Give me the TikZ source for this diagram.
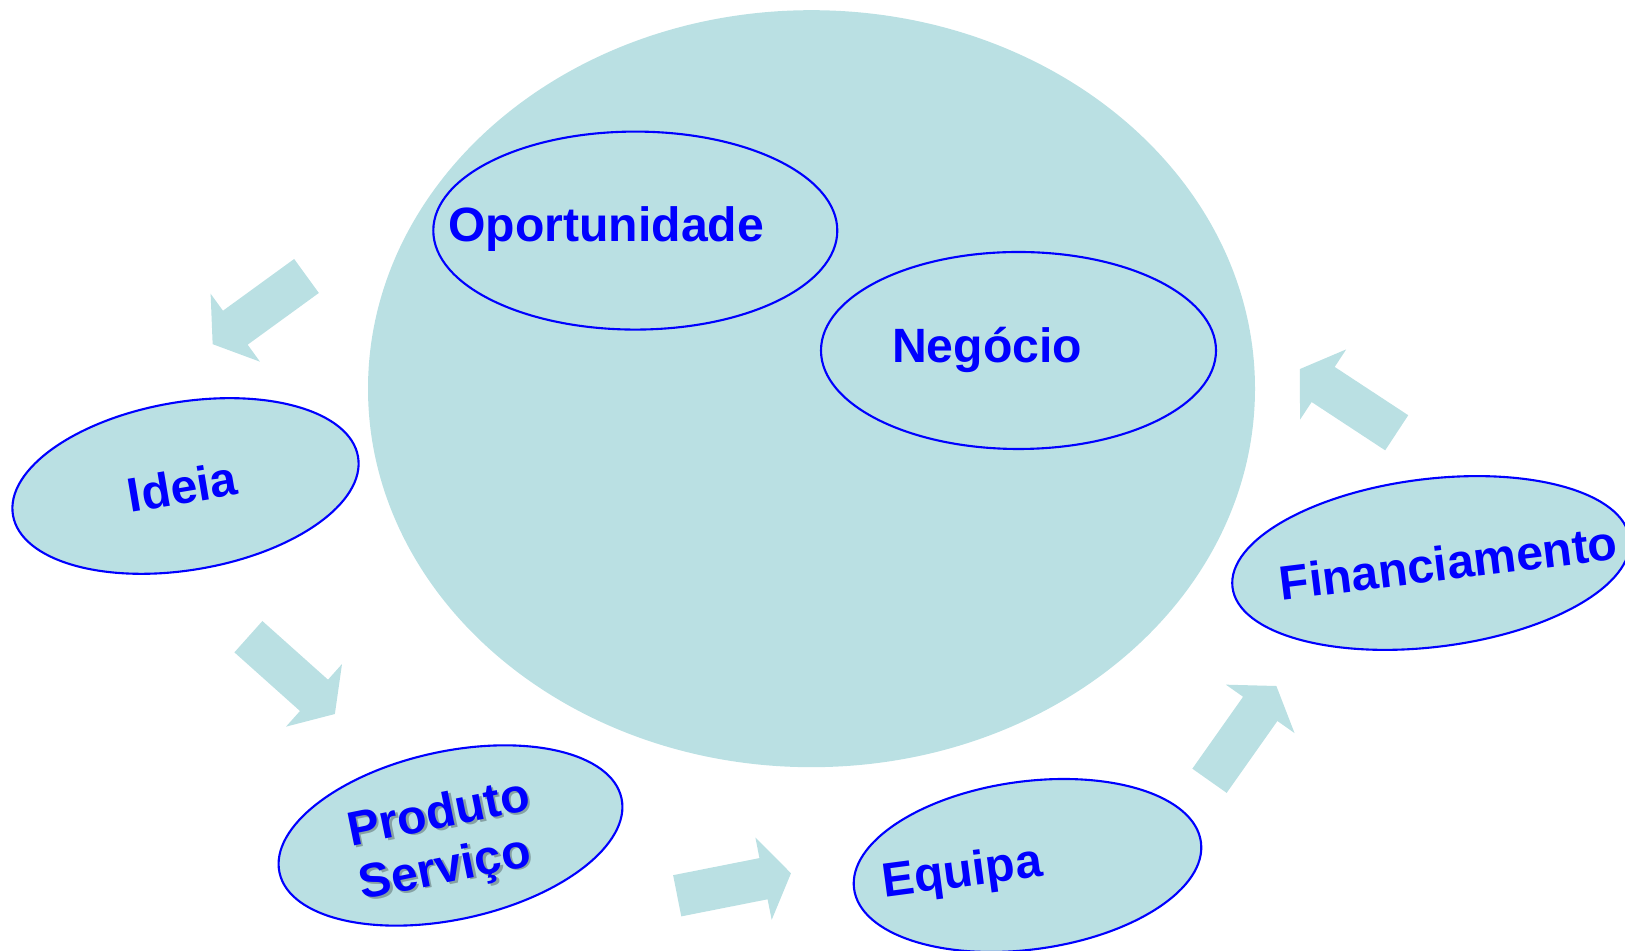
\documentclass[tikz,border=0pt]{standalone}
\usepackage{fontspec}
\setmainfont{Liberation Sans}
\usepackage{tikz}
\usetikzlibrary{shapes.geometric}
\definecolor{aqua}{HTML}{BAE0E3}
\definecolor{ink}{HTML}{0000FF}
\newcommand\shadowed[1]{\rlap{\kern0.6pt\raisebox{-0.6pt}{\textcolor{aqua!72!black}{#1}}}#1}
\tikzset{
  blob/.style={ellipse, fill=aqua, inner sep=0pt},
  ring/.style={ellipse, draw=ink, line width=0.6pt, inner sep=0pt},
  bubble/.style={ring, fill=aqua, minimum width=3.5cm, minimum height=1.68cm},
  word/.style={font=\bfseries\fontsize{13.7}{16}\selectfont, text=ink, inner sep=0pt, anchor=base},
  flow/.pic={
    \fill[aqua] (0,-0.21) -- (0.88,-0.21) -- (0.88,-0.42) -- (1.16,0)
      -- (0.88,0.42) -- (0.88,0.21) -- (0,0.21) -- cycle;
  }
}

\begin{document}
\begin{tikzpicture}
  \useasboundingbox (0,0) rectangle (16.25,-9.51);

  \node[blob, minimum width=8.87cm, minimum height=7.57cm] (core) at (8.115,-3.887) {};
  \node[ring, minimum width=4.04cm, minimum height=1.98cm] (oport) at (6.353,-2.306) {};
  \node[ring, minimum width=3.95cm, minimum height=1.97cm] (neg) at (10.185,-3.505) {};
  \node[word] (oporttxt) at (6.063,-2.417) {Oportunidade};
  \node[word] (negtxt) at (9.871,-3.623) {Negócio};

  \node[bubble, rotate=9.6] (ideia) at (1.855,-4.86) {};
  \node[word, rotate=9.5] (ideiatxt) at (1.85,-5.035) {Ideia};

  \node[bubble, rotate=12.3] (prod) at (4.505,-8.355) {};
  \node[word, rotate=11.5] (prodtxt) at (4.415,-8.28) {\shadowed{Produto}};
  \node[word, rotate=11.5] (servtxt) at (4.478,-8.825) {\shadowed{Serviço}};

  \node[bubble, rotate=7.7] (equipa) at (10.275,-8.655) {};
  \node[word, rotate=7.5] (equipatxt) at (9.64,-8.867) {Equipa};

  \node[bubble, minimum width=4cm, rotate=7] (fin) at (14.31,-5.63) {};
  \node[word, rotate=7] (fintxt) at (14.505,-5.797) {Financiamento};

  \pic[rotate=216] at (3.065,-2.76) {flow};
  \pic[rotate=-41.8] at (2.484,-6.367) {flow};
  \pic[rotate=11.2] at (6.772,-8.958) {flow};
  \pic[rotate=54.8] at (12.095,-7.808) {flow};
  \pic[rotate=146.7] at (13.967,-4.328) {flow};
\end{tikzpicture}
\end{document}
